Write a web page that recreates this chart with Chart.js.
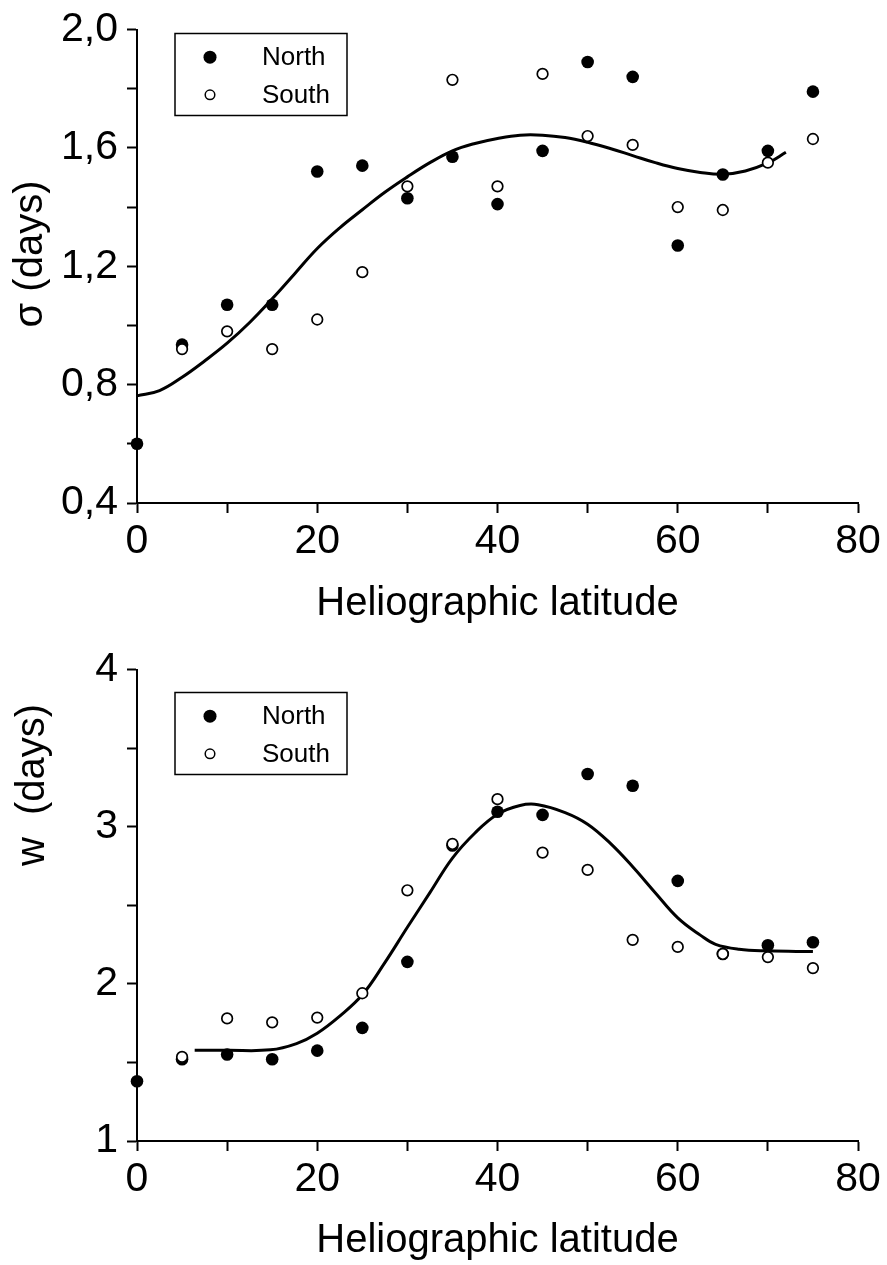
<!DOCTYPE html>
<html>
<head>
<meta charset="utf-8">
<title>Heliographic latitude</title>
<script src="https://cdn.jsdelivr.net/npm/chart.js@4.4.1/dist/chart.umd.min.js"></script>
<style>
    html, body { margin: 0; padding: 0; background: #fff; }
    .panel { position: absolute; left: 0; width: 887px; }
    #topPanel { top: 0; height: 640px; }
    #bottomPanel { top: 640px; height: 625px; }
</style>
</head>
<body>
<div class="panel" id="topPanel"><canvas id="sigmaChart"></canvas></div>
<div class="panel" id="bottomPanel"><canvas id="widthChart"></canvas></div>
<script>
// Latitudes of the measured points
const latitudes = [0, 5, 10, 15, 20, 25, 30, 35, 40, 45, 50, 55, 60, 65, 70, 75];

// sigma (days)
const sigmaNorth = [0.60, 0.935, 1.07, 1.07, 1.52, 1.54, 1.43, 1.57, 1.41, 1.59, 1.89, 1.84, 1.27, 1.51, 1.59, 1.79];
const sigmaSouth = [null, 0.92, 0.98, 0.92, 1.02, 1.18, 1.47, 1.83, 1.47, 1.85, 1.64, 1.61, 1.40, 1.39, 1.55, 1.63];
const sigmaFitLat = [0, 2.5, 5, 7.5, 10, 12.5, 15, 17.5, 20, 22.5, 25, 27.5, 30, 32.5, 35, 37.5, 40, 42.5, 45, 47.5, 50, 52.5, 55, 57.5, 60, 62.5, 65, 67.5, 70, 72];
const sigmaFit = [0.762, 0.78, 0.825, 0.88, 0.94, 1.01, 1.09, 1.175, 1.26, 1.33, 1.391, 1.45, 1.502, 1.55, 1.59, 1.615, 1.632, 1.643, 1.643, 1.635, 1.619, 1.598, 1.574, 1.550, 1.530, 1.517, 1.511, 1.522, 1.549, 1.585];

// w (days)
const widthNorth = [1.38, 1.52, 1.55, 1.52, 1.575, 1.72, 2.14, 2.88, 3.095, 3.075, 3.335, 3.26, 2.655, 2.19, 2.245, 2.265];
const widthSouth = [null, 1.535, 1.78, 1.755, 1.785, 1.94, 2.595, 2.89, 3.175, 2.835, 2.725, 2.28, 2.235, 2.19, 2.17, 2.10];
const widthFitLat = [6.4, 10, 14.8, 17.7, 20, 22.5, 25, 27.5, 30, 32.5, 35, 37.5, 40, 42.5, 44.5, 47.5, 50, 52.5, 55, 57.5, 60, 62.5, 64.2, 66.8, 70, 75];
const widthFit = [1.577, 1.577, 1.58, 1.62, 1.686, 1.795, 1.93, 2.135, 2.36, 2.58, 2.80, 2.96, 3.079, 3.135, 3.14, 3.09, 3.016, 2.895, 2.745, 2.58, 2.42, 2.31, 2.251, 2.220, 2.21, 2.205];

// Tick labels
const xTickLabels = [0, 20, 40, 60, 80];
const sigmaTickLabels = ['0,4', '0,8', '1,2', '1,6', '2,0'];
const widthTickLabels = ['1', '2', '3', '4'];

const FONT = "'Liberation Sans', Arial, Helvetica, sans-serif";

function toPoints(xs, ys) {
    return xs.map((x, i) => ({ x: x, y: ys[i] }));
}

// legend box drawn inside the plot area
const boxLegend = {
    id: 'boxLegend',
    afterDatasetsDraw(chart, args, opts) {
        const ctx = chart.ctx;
        const bx = chart.chartArea.left + opts.dx;
        const by = chart.chartArea.top + opts.dy;
        ctx.save();
        ctx.fillStyle = '#fff';
        ctx.fillRect(bx, by, opts.width, opts.height);
        ctx.strokeStyle = '#000';
        ctx.lineWidth = 1.5;
        ctx.strokeRect(bx, by, opts.width, opts.height);
        ctx.font = '26px ' + FONT;
        ctx.textBaseline = 'middle';
        ctx.textAlign = 'left';
        chart.data.datasets.filter(d => d.label).forEach((d, i) => {
            const cy = by + opts.rows[i];
            ctx.beginPath();
            ctx.arc(bx + 35, cy, d.borderWidth ? 4.8 : 6.5, 0, Math.PI * 2);
            ctx.fillStyle = d.backgroundColor;
            ctx.fill();
            if (d.borderWidth) {
                ctx.lineWidth = 1.5;
                ctx.strokeStyle = d.borderColor;
                ctx.stroke();
            }
            ctx.fillStyle = '#000';
            ctx.fillText(d.label, bx + 87, cy + 1);
        });
        ctx.restore();
    }
};

// rotated y axis title at a fixed place
const sideTitle = {
    id: 'sideTitle',
    afterDraw(chart, args, opts) {
        const ctx = chart.ctx;
        ctx.save();
        ctx.translate(opts.x, opts.y);
        ctx.rotate(-Math.PI / 2);
        ctx.font = '40px ' + FONT;
        ctx.fillStyle = '#000';
        ctx.textAlign = 'center';
        ctx.textBaseline = 'middle';
        ctx.fillText(opts.text, 0, 0);
        ctx.restore();
    }
};

function makeChart(id, cfg) {
    const axisGrid = {
        drawOnChartArea: false,
        drawTicks: true,
        tickLength: 10,
        tickWidth: 2,
        color: '#000'
    };
    return new Chart(document.getElementById(id), {
        type: 'scatter',
        data: {
            datasets: [
                {
                    label: '',
                    data: toPoints(cfg.fitLat, cfg.fit),
                    showLine: true,
                    borderColor: '#000',
                    borderWidth: 3,
                    pointRadius: 0,
                    tension: 0.4,
                    clip: false,
                    order: 3
                },
                {
                    label: 'North',
                    data: toPoints(latitudes, cfg.north),
                    pointRadius: 6.3,
                    pointHoverRadius: 6.3,
                    backgroundColor: '#000',
                    borderColor: '#000',
                    borderWidth: 0,
                    clip: false,
                    order: 2
                },
                {
                    label: 'South',
                    data: toPoints(latitudes, cfg.south),
                    pointRadius: 5.3,
                    pointHoverRadius: 5.3,
                    backgroundColor: '#fff',
                    borderColor: '#000',
                    borderWidth: 1.7,
                    clip: false,
                    order: 1
                }
            ]
        },
        options: {
            responsive: true,
            maintainAspectRatio: false,
            animation: false,
            events: [],
            layout: { padding: { top: cfg.padTop, right: 29, left: 0, bottom: 0 } },
            scales: {
                x: {
                    type: 'linear',
                    min: 0,
                    max: 80,
                    afterFit: (scale) => { scale.height = cfg.xHeight; },
                    ticks: {
                        stepSize: 10,
                        autoSkip: false,
                        maxRotation: 0,
                        padding: 4,
                        color: '#000',
                        font: { family: FONT, size: 41, lineHeight: 1.2 },
                        callback: (v) => xTickLabels.includes(v) ? String(v) : ''
                    },
                    grid: axisGrid,
                    border: { display: true, color: '#000', width: 2 },
                    title: {
                        display: true,
                        text: 'Heliographic latitude',
                        color: '#000',
                        font: { family: FONT, size: 40, lineHeight: 1 },
                        padding: { top: 0, bottom: cfg.titlePad }
                    }
                },
                y: {
                    type: 'linear',
                    min: cfg.yMin,
                    max: cfg.yMax,
                    afterFit: (scale) => { scale.width = 137; },
                    ticks: {
                        stepSize: cfg.yStep,
                        autoSkip: false,
                        padding: 9,
                        color: '#000',
                        font: { family: FONT, size: 41, lineHeight: 1 },
                        callback: cfg.yLabel
                    },
                    grid: axisGrid,
                    border: { display: true, color: '#000', width: 2 }
                }
            },
            plugins: {
                legend: { display: false },
                tooltip: { enabled: false },
                boxLegend: { dx: 38, dy: cfg.legendTop, width: 172, height: 82, rows: [23.7, 61.3] },
                sideTitle: cfg.sideTitle
            }
        },
        plugins: [boxLegend, sideTitle]
    });
}

const sigmaChart = makeChart('sigmaChart', {
    fitLat: sigmaFitLat, fit: sigmaFit, north: sigmaNorth, south: sigmaSouth,
    yMin: 0.4, yMax: 2.0, yStep: 0.2,
    yLabel: (v) => {
        const s = v.toFixed(1).replace('.', ',');
        return sigmaTickLabels.includes(s) ? s : '';
    },
    padTop: 24, xHeight: 137, titlePad: 16, legendTop: 4,
    sideTitle: { text: 'σ (days)', x: 31, y: 254 }
});

const widthChart = makeChart('widthChart', {
    fitLat: widthFitLat, fit: widthFit, north: widthNorth, south: widthSouth,
    yMin: 1, yMax: 4, yStep: 0.5,
    yLabel: (v) => {
        const s = String(v);
        return widthTickLabels.includes(s) ? s : '';
    },
    padTop: 23, xHeight: 124, titlePad: 4, legendTop: 23,
    sideTitle: { text: 'w  (days)', x: 33, y: 145 }
});
</script>
</body>
</html>
